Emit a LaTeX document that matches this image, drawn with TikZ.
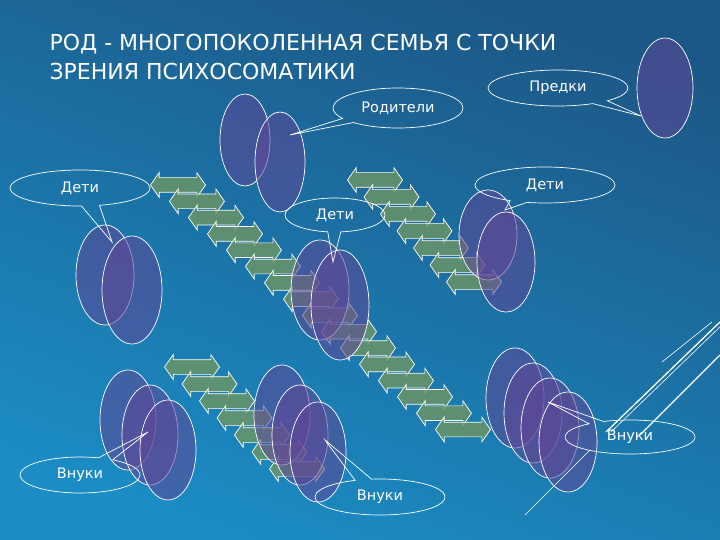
\documentclass[tikz,border=0pt]{standalone}
\usepackage{fontspec}
\setmainfont{DejaVu Sans}
\usetikzlibrary{shapes.geometric,shapes.arrows,shapes.callouts}
\definecolor{bgtop}{RGB}{28,88,135}
\definecolor{bgbot}{RGB}{27,140,196}
\definecolor{ellfill}{RGB}{95,70,150}
\definecolor{arrfill}{RGB}{110,150,100}
\begin{document}
\begin{tikzpicture}[x=1pt,y=-1pt,
  oval/.style={ellipse,draw=white,line width=0.7pt,fill=ellfill,fill opacity=0.55,inner sep=0pt},
  dar/.style={double arrow,draw=white,line width=0.7pt,fill=arrfill,fill opacity=0.8,double arrow head extend=5pt,double arrow tip angle=110,inner sep=0pt},
  bubble/.style={ellipse callout,draw=white,line width=0.7pt,text=white,font=\fontsize{14.5}{14.5}\selectfont,inner sep=0pt}]
\shade[top color=bgtop,bottom color=bgbot,shading angle=-20] (0,0) rectangle (720,540);
\useasboundingbox (0,0) rectangle (720,540);
\node[anchor=west,text=white,font=\fontsize{22}{29}\selectfont,align=left] (title) at (46,57) {РОД - МНОГОПОКОЛЕННАЯ СЕМЬЯ С ТОЧКИ\\ЗРЕНИЯ ПСИХОСОМАТИКИ};
% arrows
\foreach \i in {0,...,15} \node[dar] (a\i) at (178+19*\i,185+16.3*\i) {\rule{0pt}{14pt}\rule{44pt}{0pt}};
\foreach \i in {0,...,6} \node[dar] (b\i) at (375+16.5*\i,180+17*\i) {\rule{0pt}{14pt}\rule{44pt}{0pt}};
\foreach \i in {0,...,6} \node[dar] (c\i) at (192+17.5*\i,367+17*\i) {\rule{0pt}{14pt}\rule{44pt}{0pt}};
% ellipses
\node[oval,minimum width=56pt,minimum height=100pt] (p1) at (665,88) {};
\node[oval,minimum width=50pt,minimum height=92pt] (r1) at (245,140) {};
\node[oval,minimum width=50pt,minimum height=100pt] (r2) at (280,162) {};
\node[oval,minimum width=58pt,minimum height=100pt] (d1) at (105,275) {};
\node[oval,minimum width=60pt,minimum height=108pt] (d2) at (132,290) {};
\node[oval,minimum width=58pt,minimum height=100pt] (d3) at (320,290) {};
\node[oval,minimum width=58pt,minimum height=110pt] (d4) at (340,305) {};
\node[oval,minimum width=58pt,minimum height=90pt] (d5) at (488,235) {};
\node[oval,minimum width=58pt,minimum height=100pt] (d6) at (506,262) {};
\node[oval,minimum width=56pt,minimum height=100pt] (g1) at (128,420) {};
\node[oval,minimum width=56pt,minimum height=100pt] (g2) at (150,435) {};
\node[oval,minimum width=56pt,minimum height=100pt] (g3) at (168,450) {};
\node[oval,minimum width=56pt,minimum height=100pt] (h1) at (282,415) {};
\node[oval,minimum width=56pt,minimum height=100pt] (h2) at (300,435) {};
\node[oval,minimum width=56pt,minimum height=100pt] (h3) at (318,452) {};
\node[oval,minimum width=58pt,minimum height=100pt] (k1) at (515,398) {};
\node[oval,minimum width=58pt,minimum height=100pt] (k2) at (533,413) {};
\node[oval,minimum width=58pt,minimum height=100pt] (k3) at (550,428) {};
\node[oval,minimum width=58pt,minimum height=100pt] (k4) at (568,442) {};
% white lines
\coordinate (l1a) at (606,432); \coordinate (l1b) at (720,322);
\coordinate (l2a) at (640,435); \coordinate (l2b) at (720,355);
\coordinate (l3a) at (662,362); \coordinate (l3b) at (712,322);
\coordinate (l4a) at (525,515); \coordinate (l4b) at (590,450);
\draw[white,line width=1.3pt] (l1a) -- (l1b) (l2a) -- (l2b);
\draw[white,line width=0.6pt] ([xshift=5pt]l1a) -- ([xshift=5pt]l1b) (l3a) -- (l3b) (l4a) -- (l4b);
% callouts
\node[bubble,minimum width=140pt,minimum height=36pt,callout absolute pointer={(641,116)}] (cp) at (558,88) {Предки};
\node[bubble,minimum width=130pt,minimum height=40pt,callout absolute pointer={(290,135)}] (cr) at (398,108) {Родители};
\node[bubble,minimum width=140pt,minimum height=36pt,callout absolute pointer={(112,242)}] (cd1) at (80,188) {Дети};
\node[bubble,minimum width=100pt,minimum height=34pt,callout absolute pointer={(333,262)}] (cd2) at (335,215) {Дети};
\node[bubble,minimum width=140pt,minimum height=36pt,callout absolute pointer={(505,210)}] (cd3) at (545,185) {Дети};
\node[bubble,minimum width=120pt,minimum height=36pt,callout absolute pointer={(148,432)}] (cv1) at (80,475) {Внуки};
\node[bubble,minimum width=130pt,minimum height=36pt,callout absolute pointer={(325,440)}] (cv2) at (380,497) {Внуки};
\node[bubble,minimum width=130pt,minimum height=34pt,callout absolute pointer={(548,402)}] (cv3) at (630,437) {Внуки};
\end{tikzpicture}
\end{document}
